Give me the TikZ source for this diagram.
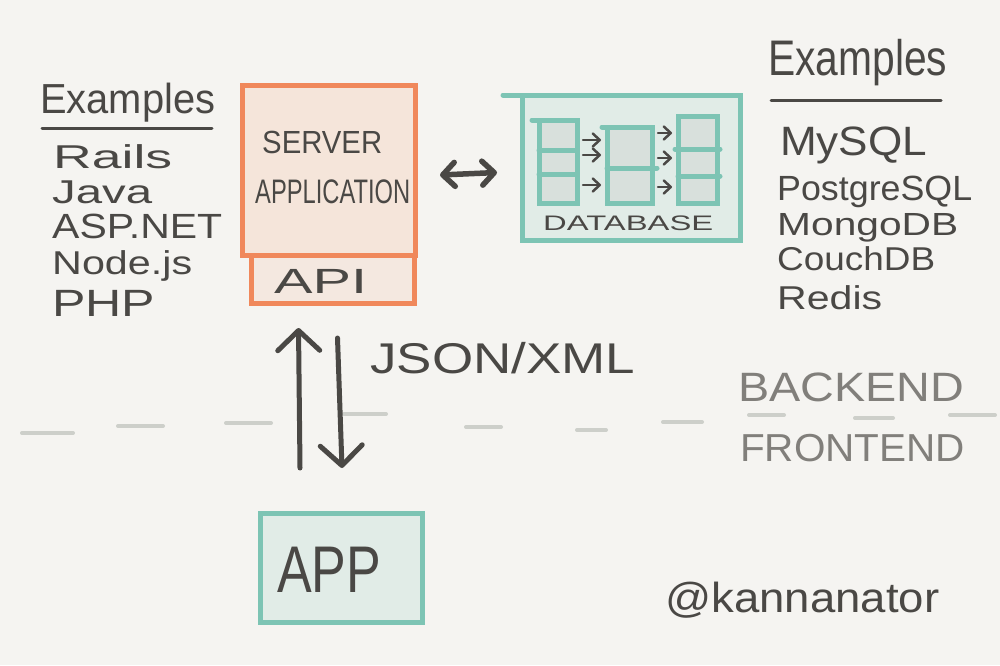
\documentclass[tikz,border=0pt]{standalone}
\usepackage{fontspec}
\setmainfont{Liberation Sans}
\usetikzlibrary{arrows.meta}
\definecolor{bg}{HTML}{F5F4F1}
\definecolor{ink}{HTML}{4A4845}
\definecolor{orng}{HTML}{F0885B}
\definecolor{peach}{HTML}{F5E5DA}
\definecolor{peachlt}{HTML}{F4E8E0}
\definecolor{teal}{HTML}{7DC4B4}
\definecolor{tealfill}{HTML}{E1ECE7}
\definecolor{cellfill}{HTML}{D8E0DC}
\definecolor{graytext}{HTML}{817F7B}
\definecolor{dashgray}{HTML}{CDCFCA}
\newcommand\hw[2]{\resizebox{#1}{\height}{#2}}
\newcommand\fs[1]{\fontsize{#1}{#1}\selectfont}
\tikzset{
  txt/.style={inner sep=0pt, anchor=base west, text=ink},
  graytxt/.style={txt, text=graytext},
  srvbox/.style={draw=orng, line width=5pt, fill=peach, inner sep=0pt, outer sep=0pt, anchor=north west},
  apibox/.style={draw=orng, line width=5pt, fill=peachlt, inner sep=0pt, outer sep=0pt, anchor=north west},
  tealbox/.style={draw=teal, line width=5pt, fill=tealfill, inner sep=0pt, outer sep=0pt, anchor=north west},
  tablebox/.style={draw=teal, line width=5pt, fill=cellfill, inner sep=0pt, outer sep=0pt, anchor=north west},
  tealline/.style={draw=teal, line width=5pt, line cap=round},
  bigarrow/.style={draw=ink, line width=5pt, line cap=round, -{Straight Barb[length=20pt,width=42pt,round]}},
  biarrow/.style={draw=ink, line width=5.5pt, line cap=round, {Straight Barb[length=12pt,width=24pt,round]}-{Straight Barb[length=12pt,width=24pt,round]}},
  sarr/.style={draw=ink, line width=2.5pt, line cap=round, -{Straight Barb[length=7pt,width=13pt,round]}},
  dashseg/.style={draw=dashgray, line width=4pt, line cap=round},
  rule/.style={draw=ink, line width=3pt, line cap=round}
}
\begin{document}
\begin{tikzpicture}[x=1pt,y=-1pt]
\useasboundingbox[fill=bg] (0,0) rectangle (1000,665);

% dashed separator
\foreach \xa/\xb/\yy in {22/73/433,118/163/426,226/271/423,344/386/414,466/501/427,577/606/430,663/702/422,749/784/415,855/893/418,950/995/415}
  \draw[dashseg] (\xa,\yy) -- (\xb,\yy);

% left examples
\node[txt] (exl) at (40,113) {\fs{42}\hw{175pt}{Examples}};
\draw[rule] (42,128) -- (212,128);
\node[txt] (rails) at (53,168) {\fs{33}\hw{119pt}{Rails}};
\node[txt] (java) at (52,203) {\fs{33}\hw{100pt}{Java}};
\node[txt] (asp) at (52,238) {\fs{35}\hw{170pt}{ASP.NET}};
\node[txt] (nodejs) at (52,274) {\fs{33}\hw{140pt}{Node.js}};
\node[txt] (php) at (52,316) {\fs{38}\hw{103pt}{PHP}};

% right examples
\node[txt] (exr) at (768,75) {\fs{50}\hw{179pt}{Examples}};
\draw[rule] (771,100) -- (941,100);
\node[txt] (mysql) at (780,155) {\fs{41}\hw{147pt}{MySQL}};
\node[txt] (pg) at (777,200) {\fs{35}\hw{195pt}{PostgreSQL}};
\node[txt] (mongo) at (777,235) {\fs{32}\hw{181pt}{MongoDB}};
\node[txt] (couch) at (777,270) {\fs{33}\hw{158pt}{CouchDB}};
\node[txt] (redis) at (777,309) {\fs{33}\hw{105pt}{Redis}};

% server + api
\node[apibox, minimum width=163pt, minimum height=48pt] (api) at (251,255) {};
\node[srvbox, minimum width=173pt, minimum height=170pt] (server) at (242,85) {};
\node[txt] (srvt) at (262,153) {\fs{32}\hw{120pt}{SERVER}};
\node[txt] (appt) at (255,203) {\fs{34}\hw{155pt}{APPLICATION}};
\node[txt] (apit) at (274,293) {\fs{35}\hw{93pt}{API}};

% database
\node[tealbox, minimum width=218pt, minimum height=145pt] (db) at (522,95) {};
\draw[tealline] (db.north west) -- ++(-19,0);
\node[tablebox, minimum width=38pt, minimum height=83pt] (t1) at (539,120) {};
\node[tablebox, minimum width=45pt, minimum height=76pt] (t2) at (607,127) {};
\node[tablebox, minimum width=39pt, minimum height=87pt] (t3) at (678,116) {};
\draw[tealline] (t1.north west) -- ++(-7,0);
\draw[tealline] (539,150) -- (577,150);
\draw[tealline] (539,174) -- (577,174);
\draw[tealline] (t2.north west) -- ++(-5,0);
\draw[tealline] (607,168) -- (657,168);
\draw[tealline] (675,149) -- (720,149);
\draw[tealline] (678,176) -- (720,176);
\coordinate (ra) at (0,140);
\coordinate (rb) at (0,155);
\coordinate (rc) at (0,185);
\coordinate (rd) at (0,133);
\coordinate (re) at (0,158);
\coordinate (rf) at (0,187);
\foreach \r in {ra,rb,rc}
  \draw[sarr, shorten <=6pt, shorten >=6pt] (t1.east |- \r) -- (t2.west |- \r);
\foreach \r in {rd,re,rf}
  \draw[sarr, shorten <=6pt, shorten >=6pt] (t2.east |- \r) -- (t3.west |- \r);
\node[txt] (dbt) at (543,230) {\fs{21}\hw{170pt}{DATABASE}};

% server <-> database
\draw[biarrow] ([xshift=25pt,yshift=-5pt]server.east) -- ([xshift=-25pt,yshift=-5pt]db.west);

% app
\node[tealbox, minimum width=162pt, minimum height=109pt] (app) at (260,513) {};
\node[txt] (appl) at (277,592) {\fs{66}\hw{104pt}{APP}};

% request / response arrows
\draw[bigarrow] ([xshift=-41pt,yshift=45pt]app.north) -- ([xshift=-34pt,yshift=-25pt]api.south);
\draw[bigarrow] ([xshift=5pt,yshift=-35pt]api.south) -- ([xshift=1pt,yshift=45pt]app.north);
\node[txt] (json) at (370,373) {\fs{43}\hw{265pt}{JSON/XML}};

% backend / frontend
\node[graytxt] (back) at (738,401) {\fs{41}\hw{226pt}{BACKEND}};
\node[graytxt] (front) at (740,461) {\fs{39}\hw{225pt}{FRONTEND}};

% signature
\node[txt] (sig) at (665,612) {\fs{42}\hw{274pt}{@kannanator}};
\end{tikzpicture}
\end{document}
